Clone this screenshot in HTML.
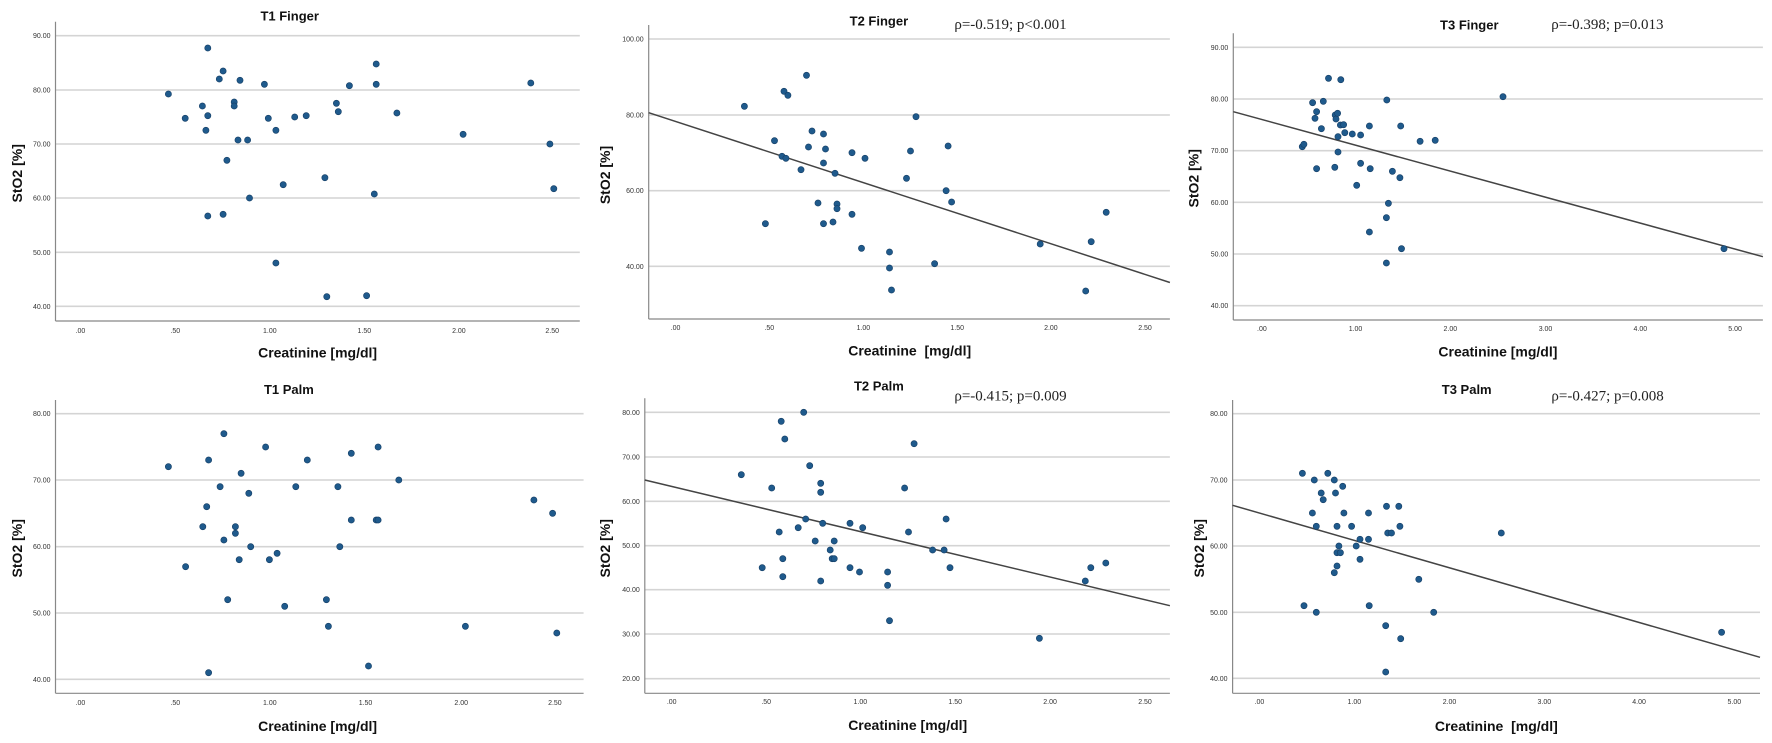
<!DOCTYPE html>
<html><head><meta charset="utf-8"><style>
html,body{margin:0;padding:0;background:#fff;}
svg{display:block;}
</style></head><body>
<svg id="s" width="1772" height="743" xmlns="http://www.w3.org/2000/svg" font-family="Liberation Sans, sans-serif"></svg>
<script>
const P=[
{ox:0,oy:0,sx:2.613,ax:145,at:65,ab:963,ar:1515,grid:[[107,'90.00'],[270,'80.00'],[432,'70.00'],[594,'60.00'],[757,'50.00'],[919,'40.00']],
xt:992,xs:[[210,'.00'],[458,'.50'],[705,'1.00'],[952,'1.50'],[1199,'2.00'],[1443,'2.50']],title:[757,48,'T1 Finger'],xl:[830,1058,'Creatinine [mg/dl]'],yl:[45,520],
pts:[[440,282],[484,355],[529,318],[538,391],[543,347],[543,144],[543,648],[573,237],[583,213],[583,643],[593,481],[612,306],[612,318],[622,420],[627,241],[647,420],[652,594],[691,253],[701,355],[721,391],[721,789],[740,554],[770,351],[800,347],[849,533],[854,890],[879,310],[884,335],[913,257],[958,887],[978,582],[983,192],[983,253],[1037,339],[1210,403],[1387,249],[1437,432],[1447,566]]},
{ox:540,oy:0,sx:2.529,ax:275,at:75,ab:957,ar:1593,grid:[[117,'100.00'],[345,'80.00'],[572,'60.00'],[799,'40.00']],
xt:982,xs:[[343,'.00'],[580,'.50'],[818,'1.00'],[1055,'1.50'],[1292,'2.00'],[1530,'2.50']],title:[857,63,'T2 Finger'],rho:[1190,72,'ρ=-0.519; p<0.001'],xl:[935,1052,'Creatinine  [mg/dl]'],yl:[165,525],
line:[275,338,1568,838],
pts:[[517,319],[570,671],[593,422],[612,469],[617,274],[622,475],[627,286],[660,509],[674,226],[679,441],[688,393],[703,609],[717,402],[717,489],[722,447],[741,666],[717,671],[746,520],[751,612],[751,626],[789,458],[789,643],[813,745],[822,475],[884,756],[884,804],[889,870],[927,535],[937,453],[951,350],[998,791],[1027,572],[1032,438],[1041,606],[1265,732],[1380,873],[1394,725],[1432,637]]},
{ox:1150,oy:0,sx:2.521,ax:210,at:100,ab:960,ar:1545,grid:[[142,'90.00'],[297,'80.00'],[452,'70.00'],[607,'60.00'],[762,'50.00'],[917,'40.00']],
xt:985,xs:[[282,'.00'],[518,'1.00'],[757,'2.00'],[997,'3.00'],[1236,'4.00'],[1475,'5.00']],title:[805,75,'T3 Finger'],rho:[1153,72,'ρ=-0.398; p=0.013'],xl:[877,1055,'Creatinine [mg/dl]'],yl:[110,535],
line:[210,335,1545,770],
pts:[[384,440],[388,433],[410,308],[416,355],[420,335],[420,506],[432,386],[437,304],[450,235],[466,502],[467,345],[469,357],[473,340],[474,410],[474,456],[480,375],[481,239],[488,374],[491,398],[510,402],[521,556],[531,405],[531,490],[553,378],[553,696],[555,506],[597,300],[596,653],[596,789],[601,610],[611,514],[630,533],[632,378],[634,746],[681,424],[719,421],[890,290],[1447,746]]},
{ox:0,oy:370,sx:2.613,ax:145,at:90,ab:970,ar:1525,grid:[[131,'80.00'],[330,'70.00'],[530,'60.00'],[729,'50.00'],[928,'40.00']],
xt:998,xs:[[210,'.00'],[458,'.50'],[705,'1.00'],[955,'1.50'],[1205,'2.00'],[1450,'2.50']],title:[755,58,'T1 Palm'],xl:[830,1068,'Creatinine [mg/dl]'],yl:[45,535],
pts:[[440,290],[485,590],[530,470],[540,410],[545,270],[545,908],[575,350],[585,191],[585,510],[595,689],[615,470],[615,490],[625,569],[630,310],[650,370],[655,530],[694,231],[704,569],[724,550],[744,709],[773,350],[803,270],[853,689],[858,769],[883,350],[888,530],[918,250],[918,450],[963,888],[983,450],[988,231],[988,450],[1042,330],[1216,769],[1395,390],[1444,430],[1455,789]]},
{ox:540,oy:370,sx:2.529,ax:265,at:85,ab:970,ar:1593,grid:[[127,'80.00'],[261,'70.00'],[394,'60.00'],[527,'50.00'],[659,'40.00'],[792,'30.00'],[926,'20.00']],
xt:995,xs:[[333,'.00'],[572,'.50'],[810,'1.00'],[1050,'1.50'],[1290,'2.00'],[1530,'2.50']],title:[857,48,'T2 Palm'],rho:[1190,77,'ρ=-0.415; p=0.009'],xl:[930,1065,'Creatinine [mg/dl]'],yl:[165,535],
line:[265,330,1568,700],
pts:[[509,314],[562,593],[586,354],[605,486],[610,154],[614,566],[614,620],[619,207],[653,473],[667,127],[672,447],[682,287],[696,513],[710,340],[710,367],[710,633],[715,460],[734,540],[739,566],[744,513],[744,566],[784,460],[784,593],[808,606],[816,473],[879,606],[879,646],[884,752],[922,354],[932,486],[946,221],[993,540],[1022,540],[1027,447],[1037,593],[1263,805],[1379,633],[1393,593],[1431,579]]},
{ox:1170,oy:370,sx:2.605,ax:163,at:90,ab:970,ar:1537,grid:[[131,'80.00'],[330,'70.00'],[528,'60.00'],[727,'50.00'],[925,'40.00']],
xt:995,xs:[[233,'.00'],[480,'1.00'],[728,'2.00'],[975,'3.00'],[1222,'4.00'],[1470,'5.00']],title:[773,58,'T3 Palm'],rho:[1140,77,'ρ=-0.427; p=0.008'],xl:[850,1068,'Creatinine  [mg/dl]'],yl:[75,535],
line:[163,406,1537,862],
pts:[[345,310],[349,707],[371,429],[376,330],[381,469],[381,727],[394,369],[399,389],[411,310],[428,330],[431,369],[428,608],[435,469],[435,548],[435,588],[440,528],[444,548],[450,349],[453,429],[473,469],[485,528],[495,508],[495,568],[517,429],[517,508],[519,707],[564,409],[562,767],[562,906],[567,489],[577,489],[596,409],[599,469],[601,806],[648,628],[687,727],[863,489],[1437,787]]}
];
let h='';
for(const p of P){
 const X=z=>(p.ox+z/p.sx).toFixed(1), Y=z=>(p.oy+z/3).toFixed(1);
 for(const [gy,l] of p.grid){
  h+=`<line x1="${X(p.ax)}" y1="${Y(gy)}" x2="${X(p.ar)}" y2="${Y(gy)}" stroke="#d4d4d4" stroke-width="1.6"/>`;
  h+=`<text x="${(+X(p.ax)-5).toFixed(1)}" y="${(+Y(gy)+2.5).toFixed(1)}" font-size="7" fill="#333" text-anchor="end">${l}</text>`;
 }
 h+=`<line x1="${X(p.ax)}" y1="${Y(p.at)}" x2="${X(p.ax)}" y2="${Y(p.ab)}" stroke="#888" stroke-width="1.2"/>`;
 h+=`<line x1="${X(p.ax)}" y1="${Y(p.ab)}" x2="${X(p.ar)}" y2="${Y(p.ab)}" stroke="#888" stroke-width="1.2"/>`;
 for(const [tx,l] of p.xs) h+=`<text x="${X(tx)}" y="${(+Y(p.xt)+2.5).toFixed(1)}" font-size="7" fill="#333" text-anchor="middle">${l}</text>`;
 if(p.line){const [x1,y1,x2,y2]=p.line;const ax1=+X(x1),ay1=+Y(y1),ax2=+X(x2),ay2=+Y(y2);const xr=+X(p.ar);const yr=ay1+(ay2-ay1)*(xr-ax1)/(ax2-ax1);
  h+=`<line x1="${ax1}" y1="${ay1}" x2="${xr}" y2="${yr.toFixed(1)}" stroke="#444" stroke-width="1.5"/>`;}
 for(const [px,py] of p.pts) h+=`<circle cx="${X(px)}" cy="${Y(py)}" r="3.1" fill="#1f5a8c" stroke="#163f66" stroke-width="0.6"/>`;
 h+=`<text x="${X(p.title[0])}" y="${(+Y(p.title[1])+4.5).toFixed(1)}" font-size="13" font-weight="bold" fill="#111" text-anchor="middle">${p.title[2]}</text>`;
 if(p.rho) h+=`<text x="${X(p.rho[0])}" y="${(+Y(p.rho[1])+5).toFixed(1)}" font-size="15" font-family="Liberation Serif, serif" fill="#222" text-anchor="middle">${p.rho[2]}</text>`;
 h+=`<text x="${X(p.xl[0])}" y="${(+Y(p.xl[1])+5).toFixed(1)}" font-size="14" font-weight="bold" fill="#111" text-anchor="middle" xml:space="preserve">${p.xl[2]}</text>`;
 const yx=+X(p.yl[0]),yy=+Y(p.yl[1]);
 h+=`<text transform="translate(${(yx+5).toFixed(1)},${yy.toFixed(1)}) rotate(-90)" font-size="14" font-weight="bold" fill="#111" text-anchor="middle">StO2 [%]</text>`;
}
document.getElementById('s').innerHTML=h;
</script>
</body></html>
